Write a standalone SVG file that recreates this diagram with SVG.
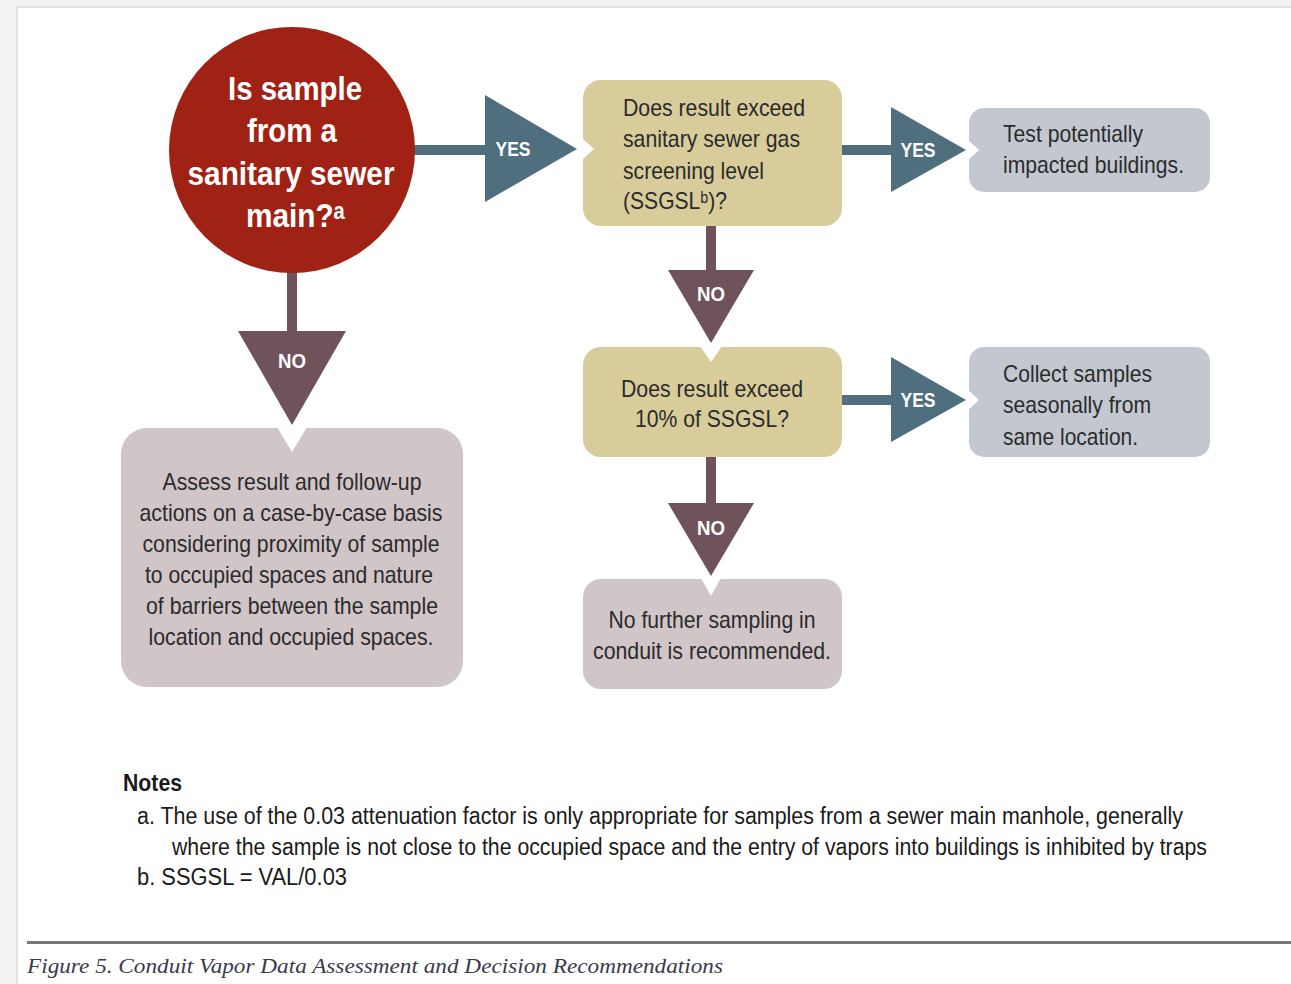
<svg xmlns="http://www.w3.org/2000/svg" width="1291" height="984" viewBox="0 0 1291 984">
<style>
.body{font-family:"Liberation Sans Narrow","Liberation Sans","DejaVu Sans",Arial,sans-serif;font-size:24px;fill:#2b2b2b}
.q{font-family:"Liberation Sans Narrow","Liberation Sans","DejaVu Sans",Arial,sans-serif;font-size:34px;font-weight:bold;fill:#ffffff}
.lab{font-family:"Liberation Sans Narrow","Liberation Sans",Arial,sans-serif;font-size:21px;font-weight:bold;fill:#ffffff}
.note{font-family:"Liberation Sans Narrow","Liberation Sans",Arial,sans-serif;font-size:23px;fill:#1a1a1a}
.yes{fill:#4f6f7f}
.no{fill:#6f525a}
.khaki{fill:#d8cc9a}
.blue{fill:#c3c8d0}
.pink{fill:#d0c6c8}
.notch{fill:#ffffff}
</style>
<rect x="0" y="0" width="1291" height="984" fill="#f2f2f2"/>
<rect x="16" y="6" width="1275" height="978" fill="#e4e4e4"/>
<rect x="18" y="8" width="1273" height="976" fill="#ffffff"/>

<g id="connectors">
  <rect x="410" y="145" width="80" height="10" class="yes"/>
  <polygon points="485,95 485,202 577,149" class="yes"/>
  <text x="513" y="156" class="lab" text-anchor="middle" textLength="35" lengthAdjust="spacingAndGlyphs">YES</text>

  <rect x="287" y="268" width="10" height="70" class="no"/>
  <polygon points="238,331 346,331 292,425" class="no"/>
  <text x="292" y="368" class="lab" text-anchor="middle" textLength="28" lengthAdjust="spacingAndGlyphs">NO</text>

  <rect x="838" y="145" width="58" height="10" class="yes"/>
  <polygon points="891,107 891,192 966,150" class="yes"/>
  <text x="918" y="157" class="lab" text-anchor="middle" textLength="35" lengthAdjust="spacingAndGlyphs">YES</text>

  <rect x="706" y="222" width="10" height="52" class="no"/>
  <polygon points="668,270 754,270 711,343" class="no"/>
  <text x="711" y="301" class="lab" text-anchor="middle" textLength="28" lengthAdjust="spacingAndGlyphs">NO</text>

  <rect x="838" y="395" width="58" height="10" class="yes"/>
  <polygon points="891,357 891,442 966,400" class="yes"/>
  <text x="918" y="407" class="lab" text-anchor="middle" textLength="35" lengthAdjust="spacingAndGlyphs">YES</text>

  <rect x="706" y="453" width="10" height="55" class="no"/>
  <polygon points="668,503 754,503 711,576" class="no"/>
  <text x="711" y="535" class="lab" text-anchor="middle" textLength="28" lengthAdjust="spacingAndGlyphs">NO</text>
</g>

<g id="start">
  <circle cx="292" cy="150" r="123" fill="#a02215"/>
  <text x="295" y="100" class="q" text-anchor="middle" textLength="134" lengthAdjust="spacingAndGlyphs">Is sample</text>
  <text x="292" y="142" class="q" text-anchor="middle" textLength="90" lengthAdjust="spacingAndGlyphs">from a</text>
  <text x="291" y="185" class="q" text-anchor="middle" textLength="207" lengthAdjust="spacingAndGlyphs">sanitary sewer</text>
  <text x="246" y="227" class="q" textLength="99" lengthAdjust="spacingAndGlyphs">main?ᵃ</text>
</g>

<g id="q1">
  <rect x="583" y="80" width="259" height="146" rx="18" class="khaki"/>
  <polygon points="582,138 594,149 582,160" class="notch"/>
  <text x="623" y="116" class="body" textLength="182" lengthAdjust="spacingAndGlyphs">Does result exceed</text>
  <text x="623" y="147" class="body" textLength="177" lengthAdjust="spacingAndGlyphs">sanitary sewer gas</text>
  <text x="623" y="179" class="body" textLength="141" lengthAdjust="spacingAndGlyphs">screening level</text>
  <text x="623" y="209" class="body" textLength="104" lengthAdjust="spacingAndGlyphs">(SSGSLᵇ)?</text>
</g>

<g id="r1">
  <rect x="969" y="108" width="241" height="84" rx="15" class="blue"/>
  <polygon points="968,140 979,150 968,160" class="notch"/>
  <text x="1003" y="142" class="body" textLength="140" lengthAdjust="spacingAndGlyphs">Test potentially</text>
  <text x="1003" y="173" class="body" textLength="181" lengthAdjust="spacingAndGlyphs">impacted buildings.</text>
</g>

<g id="q2">
  <rect x="583" y="347" width="259" height="110" rx="18" class="khaki"/>
  <polygon points="700,346 711,362 722,346" class="notch"/>
  <text x="712" y="397" class="body" text-anchor="middle" textLength="182" lengthAdjust="spacingAndGlyphs">Does result exceed</text>
  <text x="712" y="427" class="body" text-anchor="middle" textLength="154" lengthAdjust="spacingAndGlyphs">10% of SSGSL?</text>
</g>

<g id="r2">
  <rect x="969" y="347" width="241" height="110" rx="15" class="blue"/>
  <polygon points="968,390 979,400 968,410" class="notch"/>
  <text x="1003" y="382" class="body" textLength="149" lengthAdjust="spacingAndGlyphs">Collect samples</text>
  <text x="1003" y="413" class="body" textLength="148" lengthAdjust="spacingAndGlyphs">seasonally from</text>
  <text x="1003" y="445" class="body" textLength="135" lengthAdjust="spacingAndGlyphs">same location.</text>
</g>

<g id="end">
  <rect x="583" y="579" width="259" height="110" rx="18" class="pink"/>
  <polygon points="701,578 711,596 721,578" class="notch"/>
  <text x="712" y="628" class="body" text-anchor="middle" textLength="207" lengthAdjust="spacingAndGlyphs">No further sampling in</text>
  <text x="712" y="659" class="body" text-anchor="middle" textLength="238" lengthAdjust="spacingAndGlyphs">conduit is recommended.</text>
</g>

<g id="assess">
  <rect x="121" y="428" width="342" height="259" rx="26" class="pink"/>
  <polygon points="277,427 292,452 307,427" class="notch"/>
  <text x="292" y="490" class="body" text-anchor="middle" textLength="259" lengthAdjust="spacingAndGlyphs">Assess result and follow-up</text>
  <text x="291" y="521" class="body" text-anchor="middle" textLength="303" lengthAdjust="spacingAndGlyphs">actions on a case-by-case basis</text>
  <text x="291" y="552" class="body" text-anchor="middle" textLength="297" lengthAdjust="spacingAndGlyphs">considering proximity of sample</text>
  <text x="289" y="583" class="body" text-anchor="middle" textLength="288" lengthAdjust="spacingAndGlyphs">to occupied spaces and nature</text>
  <text x="292" y="614" class="body" text-anchor="middle" textLength="292" lengthAdjust="spacingAndGlyphs">of barriers between the sample</text>
  <text x="291" y="645" class="body" text-anchor="middle" textLength="285" lengthAdjust="spacingAndGlyphs">location and occupied spaces.</text>
</g>

<g id="notes">
  <text x="123" y="791" class="note" style="font-weight:bold" textLength="59" lengthAdjust="spacingAndGlyphs">Notes</text>
  <text x="137" y="824" class="note" textLength="1046" lengthAdjust="spacingAndGlyphs">a. The use of the 0.03 attenuation factor is only appropriate for samples from a sewer main manhole, generally</text>
  <text x="172" y="855" class="note" textLength="1035" lengthAdjust="spacingAndGlyphs">where the sample is not close to the occupied space and the entry of vapors into buildings is inhibited by traps</text>
  <text x="137" y="885" class="note" textLength="210" lengthAdjust="spacingAndGlyphs">b. SSGSL = VAL/0.03</text>
</g>

<g id="caption">
  <rect x="27" y="941" width="1264" height="3" fill="#777777"/>
  <text x="27" y="973" font-family="'Liberation Serif','Times New Roman',serif" font-style="italic" font-size="21" fill="#3a3a4a" textLength="696" lengthAdjust="spacingAndGlyphs">Figure 5. Conduit Vapor Data Assessment and Decision Recommendations</text>
</g>
</svg>
